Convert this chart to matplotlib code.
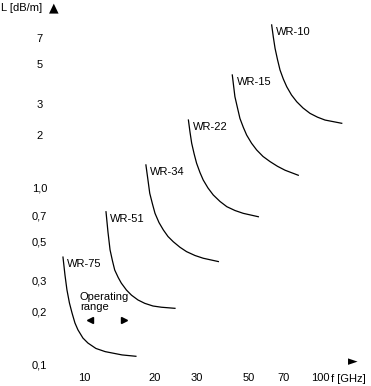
import matplotlib.pyplot as plt
import numpy as np

# curve readings (frequency in GHz, attenuation in dB/m)
names = ['WR-75', 'WR-51', 'WR-34', 'WR-22', 'WR-15', 'WR-10']
freqs = [
    [8.15, 8.31, 8.47, 8.68, 8.9, 9.16, 9.43, 9.90, 10.4, 11.24, 12.3, 14.5, 16.6],
    [12.4, 12.64, 12.9, 13.21, 13.5, 13.97, 14.4, 15.14, 15.9, 16.94, 18.1, 19.61, 21.3, 24.3],
    [18.3, 18.67, 19.0, 19.51, 20.0, 20.79, 21.7, 22.70, 23.9, 25.52, 27.2, 29.54, 32.0, 37.1],
    [27.7, 28.13, 28.6, 29.30, 30.0, 31.0, 32.0, 33.53, 35.3, 37.71, 40.3, 43.63, 47.3, 54.8],
    [42.5, 43.05, 43.6, 44.72, 45.8, 47.32, 48.9, 51.27, 53.9, 57.35, 61.4, 66.04, 71.1, 80.9],
    [62.4, 63.41, 64.5, 66.04, 67.7, 69.90, 72.3, 75.72, 79.7, 84.72, 90.7, 97.59, 105.0, 123.6],
]
atten = [
    [0.407, 0.3225, 0.266, 0.224, 0.197, 0.1727, 0.158, 0.142, 0.133, 0.124, 0.119, 0.114, 0.112],
    [0.734, 0.564, 0.447, 0.387, 0.344, 0.312, 0.290, 0.265, 0.248, 0.233, 0.223, 0.2154, 0.212, 0.209],
    [1.35, 1.110, 0.933, 0.812, 0.719, 0.638, 0.579, 0.532, 0.497, 0.4624, 0.437, 0.4155, 0.401, 0.384],
    [2.42, 2.072, 1.79, 1.556, 1.38, 1.224, 1.11, 1.0, 0.913, 0.839, 0.784, 0.746, 0.719, 0.688],
    [4.35, 3.77, 3.28, 2.831, 2.47, 2.202, 1.99, 1.791, 1.64, 1.507, 1.41, 1.326, 1.26, 1.18],
    [8.34, 7.131, 6.15, 5.321, 4.64, 4.128, 3.73, 3.353, 3.07, 2.831, 2.64, 2.512, 2.42, 2.32],
]
xticks = [10, 20, 30, 50, 70, 100]
yticks = [0.1, 0.2, 0.3, 0.5, 0.7, 1.0, 2, 3, 5, 7]
ytick_labels = ['0,1', '0,2', '0,3', '0,5', '0,7', '1,0', '2', '3', '5', '7']
range_f = [10.6, 14.8]   # operating range arrows of WR-75
range_L = 0.18

plt.rcParams['font.family'] = ['Liberation Sans', 'DejaVu Sans']
plt.rcParams['font.size'] = 8

fig = plt.figure(figsize=(3.71, 3.86), dpi=100)
ax = fig.add_axes([55/371, 16/386, 305/371, 355/386])
ax.set_xscale('log')
ax.set_yscale('log')
ax.set_xlim(7.54, 147.7)
ax.set_ylim(0.0937, 9.49)

for name, f, L in zip(names, freqs, atten):
    ax.plot(f, L, color='black', lw=0.9, solid_joinstyle='round')
    ax.annotate(name, (f[0], L[0]), xytext=(3, -5), textcoords='offset points',
                ha='left', va='center')

ax.text(9.62, 0.227, 'Operating\nrange', ha='left', va='center', linespacing=1.1)
ax.plot(range_f[0], range_L, marker='<', color='black', ms=4.5, ls='none')
ax.plot(range_f[1], range_L, marker='>', color='black', ms=4.5, ls='none')

ax.set_xticks(xticks)
ax.set_xticklabels([str(t) for t in xticks])
ax.set_yticks(yticks)
ax.set_yticklabels(ytick_labels)
ax.minorticks_off()
ax.tick_params(length=0)
ax.tick_params(axis='x', pad=2.5)
ax.tick_params(axis='y', pad=11)
for lab in ax.get_yticklabels():
    lab.set_horizontalalignment('center')
for s in ax.spines.values():
    s.set_visible(False)

# axis titles with arrow heads
fig.text(1/371, 1 - 8/386, 'L [dB/m]', ha='left', va='center')
fig.text(54/371, 1 - 8/386, '▲', ha='center', va='center', fontsize=9,
         family=['DejaVu Sans'])
fig.text(331/371, 1 - 379/386, 'f [GHz]', ha='left', va='center')
fig.text(353/371, 1 - 362/386, '►', ha='center', va='center', fontsize=9,
         family=['DejaVu Sans'])

fig.savefig('out.png', dpi=100)
